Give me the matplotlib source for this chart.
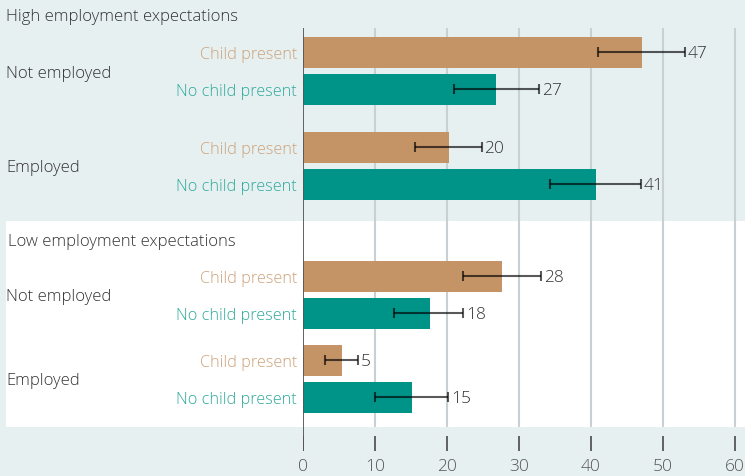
import numpy as np
import matplotlib.pyplot as plt
import matplotlib.transforms as mtransforms
from matplotlib.patches import Rectangle

plt.rcParams['font.family'] = ['Open Sans', 'DejaVu Sans']
plt.rcParams['font.weight'] = 'light'

# Données
sections = ["High employment expectations", "Low employment expectations"]
groups = ["Not employed", "Employed"]
bar_labels = ["Child present", "No child present"]

high_values = [47.1, 26.8, 20.3, 40.7]
high_err_lo = [41.0, 21.0, 15.5, 34.3]
high_err_hi = [53.0, 32.8, 24.8, 46.9]

low_values = [27.6, 17.7, 5.4, 15.1]
low_err_lo = [22.2, 12.7, 3.0, 10.0]
low_err_hi = [33.1, 22.2, 7.6, 20.2]

xticks = [0, 10, 20, 30, 40, 50, 60]

# Mise en page (pixels)
W, H = 745, 477
x0_px = 303
px_per_unit = 7.2
group_starts = [[53, 148], [277, 361]]
bar_step = 37
bar_h = 31
title_y = [17, 242]

bar_colors = ["#C49466", "#009388"]
label_colors = ["#CCA27A", "#2EA99B"]
bg = "#E7F0F1"
dark = "#333333"

fig = plt.figure(figsize=(W / 100, H / 100), dpi=100, facecolor=bg)
fig.patches.append(Rectangle((6 / W, 1 - 428 / H), (W - 6) / W, 206 / H,
                             transform=fig.transFigure, facecolor="white",
                             edgecolor="none", zorder=-5))

ax = fig.add_axes([x0_px / W, 0, (W - x0_px) / W, 1])
ax.set_facecolor("none")
ax.set_xlim(0, (W - x0_px) / px_per_unit)
ax.set_ylim(H, 0)
ax.axis("off")

# Grille et axe
ax.vlines(xticks[1:], 29, 428, color="#C9D0D3", lw=1.5, zorder=1)
ax.vlines(0, 29, 452, color="#555555", lw=1.3, zorder=4)
ax.vlines(xticks, 437, 452, color="#555555", lw=1.3, zorder=4)
for t in xticks:
    ax.text(t, 467, str(t), ha="center", va="center", fontsize=12.5,
            color="#555555", clip_on=False)

left_tr = mtransforms.offset_copy(
    mtransforms.blended_transform_factory(fig.transFigure, ax.transData),
    fig=fig, x=0, y=-2, units="dots")
lab_tr = mtransforms.offset_copy(ax.transData, fig=fig, x=-6, y=-2, units="dots")
val_tr = mtransforms.offset_copy(ax.transData, fig=fig, x=3, y=-1, units="dots")

all_vals = [high_values, low_values]
all_lo = [high_err_lo, low_err_lo]
all_hi = [high_err_hi, low_err_hi]

for s, title in enumerate(sections):
    fig.text(6 / W if s == 0 else 8 / W, 1 - title_y[s] / H, title,
             ha="left", va="center", fontsize=12, color=dark)
    for g, grp in enumerate(groups):
        ys = [group_starts[s][g] + k * bar_step for k in range(2)]
        ax.text(6 / W, np.mean(ys), grp, transform=left_tr, ha="left",
                va="center", fontsize=12, color=dark)
        for k in range(2):
            i = g * 2 + k
            v = all_vals[s][i]
            lo, hi = all_lo[s][i], all_hi[s][i]
            ax.barh(ys[k], v, height=bar_h, color=bar_colors[k], zorder=2)
            ax.errorbar(v, ys[k], xerr=[[v - lo], [hi - v]], fmt="none",
                        ecolor="black", alpha=0.65, elinewidth=1.5,
                        capsize=3.5, capthick=1.5, zorder=3)
            ax.text(0, ys[k], bar_labels[k], transform=lab_tr, ha="right",
                    va="center", fontsize=11.7, color=label_colors[k])
            ax.text(hi, ys[k], str(int(round(v))), transform=val_tr,
                    ha="left", va="center", fontsize=12.5, color=dark)

fig.savefig("out.png", dpi=100, facecolor=bg)
